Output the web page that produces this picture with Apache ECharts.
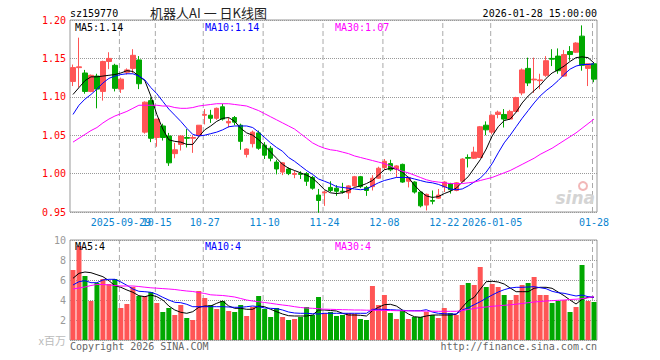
<!DOCTYPE html>
<html><head><meta charset="utf-8">
<script src="https://cdn.jsdelivr.net/npm/echarts@6/dist/echarts.min.js"></script>
<style>html,body{margin:0;padding:0;background:#fff}#c{width:660px;height:360px}</style>
</head><body><div id="c"></div>
<script>
const dates = [
'2025-09-17','2025-09-18','2025-09-19','2025-09-22','2025-09-23','2025-09-24','2025-09-25','2025-09-26','2025-09-29','2025-09-30',
'2025-10-09','2025-10-10','2025-10-13','2025-10-14','2025-10-15','2025-10-16','2025-10-17','2025-10-20','2025-10-21','2025-10-22',
'2025-10-23','2025-10-24','2025-10-27','2025-10-28','2025-10-29','2025-10-30','2025-10-31','2025-11-03','2025-11-04','2025-11-05',
'2025-11-06','2025-11-07','2025-11-10','2025-11-11','2025-11-12','2025-11-13','2025-11-14','2025-11-17','2025-11-18','2025-11-19',
'2025-11-20','2025-11-21','2025-11-24','2025-11-25','2025-11-26','2025-11-27','2025-11-28','2025-12-01','2025-12-02','2025-12-03',
'2025-12-04','2025-12-05','2025-12-08','2025-12-09','2025-12-10','2025-12-11','2025-12-12','2025-12-15','2025-12-16','2025-12-17',
'2025-12-18','2025-12-19','2025-12-22','2025-12-23','2025-12-24','2025-12-25','2025-12-26','2025-12-29','2025-12-30','2025-12-31',
'2026-01-05','2026-01-06','2026-01-07','2026-01-08','2026-01-09','2026-01-12','2026-01-13','2026-01-14','2026-01-15','2026-01-16',
'2026-01-19','2026-01-20','2026-01-21','2026-01-22','2026-01-23','2026-01-26','2026-01-27','2026-01-28'];

const opens = [
1.120,1.138,1.131,1.107,1.127,1.107,1.146,1.141,1.110,1.132,
1.137,1.148,1.054,1.095,1.047,1.062,1.049,1.026,1.038,1.047,
1.046,1.050,1.076,1.076,1.072,1.087,1.066,1.073,1.063,1.025,
1.039,1.053,1.037,1.033,1.015,1.002,1.006,0.999,1.000,1.000,
0.995,0.972,0.975,0.982,0.981,0.977,0.975,0.984,0.996,0.982,
0.983,0.994,1.008,1.013,1.006,1.012,0.990,0.989,0.976,0.959,
0.965,0.968,0.983,0.987,0.978,0.990,1.021,1.020,1.021,1.063,
1.054,1.077,1.077,1.071,1.081,1.105,1.137,1.122,1.121,1.128,
1.150,1.153,1.127,1.159,1.158,1.179,1.137,1.143];
const closes = [
1.138,1.139,1.107,1.128,1.110,1.146,1.150,1.111,1.123,1.135,
1.154,1.117,1.093,1.046,1.071,1.047,1.014,1.031,1.049,1.046,
1.047,1.063,1.077,1.072,1.085,1.071,1.068,1.067,1.042,1.032,
1.054,1.033,1.024,1.020,1.006,1.014,1.000,1.000,0.999,0.990,
0.981,0.965,0.976,0.978,0.977,0.976,0.984,0.996,0.983,0.978,
0.994,1.007,1.016,1.005,1.010,0.989,0.995,0.976,0.958,0.973,
0.964,0.972,0.989,0.979,0.988,1.019,1.020,1.028,1.061,1.057,
1.076,1.080,1.071,1.081,1.099,1.135,1.118,1.123,1.122,1.147,
1.149,1.134,1.155,1.155,1.170,1.141,1.143,1.123];
const lows = [
1.114,1.112,1.104,1.106,1.085,1.095,1.136,1.107,1.105,1.129,
1.131,1.110,1.052,1.041,1.035,1.043,1.010,1.020,1.030,1.034,
1.027,1.048,1.064,1.066,1.070,1.069,1.060,1.063,1.031,1.021,
1.034,1.031,1.019,1.016,0.999,0.998,0.998,0.994,0.993,0.984,
0.979,0.949,0.958,0.976,0.971,0.974,0.967,0.983,0.981,0.971,
0.978,0.993,1.005,1.003,0.995,0.988,0.982,0.974,0.956,0.952,
0.960,0.967,0.976,0.974,0.977,0.989,1.008,1.019,1.021,1.050,
1.051,1.072,1.060,1.070,1.080,1.102,1.114,1.105,1.110,1.126,
1.140,1.130,1.126,1.147,1.157,1.134,1.114,1.119];
const highs = [
1.142,1.177,1.135,1.129,1.130,1.147,1.158,1.143,1.125,1.137,
1.162,1.153,1.094,1.099,1.071,1.065,1.053,1.040,1.050,1.058,
1.050,1.063,1.084,1.083,1.086,1.091,1.073,1.075,1.065,1.033,
1.056,1.056,1.041,1.036,1.018,1.015,1.008,1.004,1.003,1.002,
0.997,0.980,0.978,0.990,0.985,0.988,0.985,0.997,0.997,0.984,
0.998,1.009,1.019,1.018,1.011,1.013,0.996,0.990,0.977,0.974,
0.978,0.980,0.990,0.988,0.989,1.020,1.025,1.035,1.062,1.068,
1.077,1.082,1.084,1.083,1.100,1.137,1.151,1.151,1.130,1.153,
1.162,1.163,1.161,1.166,1.171,1.193,1.143,1.143];

const ma5 = [
1.103,1.112,1.121,1.126,1.126,1.127,1.128,1.129,1.131,1.134,
1.133,1.127,1.121,1.101,1.077,1.058,1.044,1.042,1.041,1.038,
1.038,1.048,1.057,1.062,1.068,1.072,1.073,1.068,1.059,1.053,
1.050,1.044,1.036,1.028,1.020,1.012,1.007,1.004,1.001,0.998,
0.994,0.987,0.979,0.975,0.974,0.975,0.978,0.982,0.984,0.987,
0.991,0.998,1.005,1.007,1.006,1.002,0.995,0.985,0.977,0.971,
0.969,0.970,0.974,0.977,0.981,0.989,0.996,1.007,1.018,1.032,
1.049,1.061,1.069,1.071,1.080,1.092,1.101,1.108,1.115,1.124,
1.131,1.135,1.140,1.146,1.151,1.152,1.151,1.144];
const ma10 = [
1.077,1.089,1.097,1.103,1.110,1.118,1.124,1.127,1.129,1.130,
1.130,1.127,1.122,1.112,1.104,1.094,1.084,1.076,1.068,1.059,
1.051,1.049,1.050,1.052,1.054,1.057,1.061,1.062,1.062,1.062,
1.060,1.054,1.047,1.040,1.034,1.029,1.021,1.016,1.010,1.004,
0.999,0.993,0.990,0.987,0.983,0.982,0.981,0.980,0.979,0.980,
0.984,0.988,0.991,0.993,0.995,0.995,0.995,0.993,0.991,0.989,
0.988,0.986,0.983,0.980,0.979,0.980,0.984,0.989,0.994,1.002,
1.013,1.027,1.040,1.050,1.061,1.072,1.082,1.092,1.101,1.108,
1.114,1.121,1.129,1.136,1.140,1.142,1.142,1.143];
const ma30 = [
1.041,1.046,1.051,1.056,1.060,1.066,1.071,1.075,1.078,1.081,
1.085,1.089,1.089,1.089,1.089,1.088,1.088,1.086,1.085,1.085,
1.086,1.088,1.089,1.090,1.091,1.091,1.091,1.090,1.089,1.088,
1.085,1.082,1.078,1.074,1.070,1.066,1.062,1.058,1.052,1.046,
1.040,1.036,1.033,1.031,1.030,1.028,1.026,1.023,1.021,1.019,
1.017,1.015,1.013,1.010,1.006,1.003,1.001,0.998,0.995,0.992,
0.990,0.989,0.988,0.987,0.987,0.987,0.988,0.989,0.991,0.993,
0.995,0.998,1.001,1.004,1.008,1.012,1.016,1.020,1.025,1.029,
1.033,1.038,1.043,1.048,1.053,1.059,1.065,1.071];

const volumes = [
7.0,9.4,6.4,3.9,5.7,6.1,5.6,6.1,3.2,3.6,
5.3,4.4,4.4,4.8,3.7,2.8,3.2,2.5,3.5,2.2,
2.0,4.9,4.2,3.5,3.1,3.9,2.9,2.8,3.5,2.4,
3.3,4.4,3.1,2.3,3.2,2.3,2.0,2.1,2.3,3.3,
2.5,4.3,2.7,2.8,2.4,2.5,2.7,2.6,2.1,2.0,
5.4,3.5,4.5,2.7,2.1,3.0,2.1,2.3,2.3,2.8,
2.5,2.2,3.2,2.7,2.5,5.5,5.7,5.5,7.3,5.3,
5.6,5.3,4.5,4.0,4.5,5.5,5.7,6.3,4.5,4.5,
3.7,3.9,4.0,2.8,3.3,7.5,3.9,3.8];
const vma5 = [
6.17,6.67,6.80,6.73,6.53,6.33,5.93,5.43,5.27,5.00,
4.77,4.43,4.33,4.50,4.33,4.00,3.40,3.00,2.77,2.67,
2.83,3.27,3.40,3.40,3.67,3.90,3.40,3.17,3.17,3.07,
3.07,3.40,3.33,3.07,2.83,2.60,2.43,2.40,2.40,2.40,
2.50,3.00,3.00,2.95,2.90,2.67,2.50,2.50,2.47,2.40,
2.93,3.27,3.53,3.57,3.40,3.00,2.60,2.33,2.27,2.40,
2.50,2.50,2.50,2.50,2.57,3.27,3.93,4.27,5.07,5.83,
5.87,5.80,5.60,5.20,4.83,4.83,4.83,5.17,5.27,5.27,
5.17,4.80,4.43,4.00,3.60,4.07,4.27,4.27];
const vma10 = [
5.50,5.83,5.93,5.73,5.73,6.00,6.07,6.07,5.80,5.47,
5.10,4.87,4.83,4.77,4.57,4.27,4.00,3.77,3.73,3.57,
3.33,3.33,3.33,3.33,3.33,3.33,3.30,3.27,3.27,3.33,
3.40,3.33,3.20,3.17,3.13,3.00,2.80,2.70,2.67,2.67,
2.63,2.60,2.67,2.67,2.67,2.67,2.67,2.67,2.67,2.67,
3.07,3.07,3.07,3.03,3.00,2.97,2.93,2.93,2.93,3.03,
2.80,2.67,2.63,2.60,2.60,3.00,3.23,3.53,3.83,4.17,
4.50,4.80,5.03,5.20,5.27,5.27,5.30,5.33,5.23,5.13,
4.87,4.73,4.67,4.53,4.40,4.50,4.33,4.27];
const vma30 = [
5.10,5.20,5.30,5.45,5.55,5.55,5.50,5.45,5.40,5.40,
5.40,5.35,5.28,5.22,5.18,5.14,5.10,5.05,4.97,4.90,
4.85,4.75,4.65,4.52,4.48,4.45,4.38,4.30,4.15,4.00,
3.90,3.83,3.75,3.67,3.58,3.50,3.43,3.33,3.25,3.20,
3.17,3.13,3.08,3.07,3.05,3.03,3.02,3.00,3.00,2.98,
2.97,2.97,2.95,2.95,2.93,2.93,2.92,2.90,2.90,2.88,
2.88,2.87,2.87,2.87,2.87,2.95,3.05,3.15,3.25,3.30,
3.37,3.42,3.47,3.52,3.58,3.65,3.73,3.80,3.85,3.90,
3.93,3.97,4.00,4.05,4.08,4.13,4.22,4.33];

const tickDates = ['2025-09-29','2025-10-15','2025-10-27','2025-11-10','2025-11-24','2025-12-08','2025-12-22','2026-01-05','2026-01-28'];
const tickTexts = ['2025-09-29','10-15','10-27','11-10','11-24','12-08','12-22','2026-01-05','01-28'];
const priceMin = 0.95, priceMax = 1.20, priceStep = 0.05;
const volMin = 0, volMax = 10, volStep = 2;

const UP = '#ff5555', DOWN = '#00a800';
const MONO = '"DejaVu Sans Mono", "Liberation Mono", monospace';
const tickText = v => tickTexts[tickDates.indexOf(v)];
// first label sits on its own axis so the overlap with its neighbour is kept, as in the original
const isTickA = (idx, val) => tickDates.indexOf(val) > 0;
const isTickB = (idx, val) => tickDates.indexOf(val) === 0;
const last = a => a[a.length - 1];

const chart = echarts.init(document.getElementById('c'), null, {renderer: 'svg'});
const hSplit = {show: true, lineStyle: {color: '#999', type: 'dotted', width: 1}};
const labelStyle = {color: '#0a84d0', fontSize: 10, fontFamily: MONO, margin: 5, hideOverlap: false, formatter: tickText};

// dashed vertical grid lines at the labelled dates: a broken line series on a hidden
// index axis (slightly shifted, as the original draws them just left of the candle centre)
function vLineData(lo, hi) {
  const out = [];
  tickDates.forEach(d => { const i = dates.indexOf(d); out.push([i, lo], [i, hi], [i, '-']); });
  return out;
}
const idxAxis = g => ({type: 'value', gridIndex: g, min: -0.25, max: dates.length - 0.25, show: false,
  splitLine: {show: false}, axisLine: {show: false}, axisTick: {show: false}, axisLabel: {show: false}});
const vLineSeries = (xi, yi, lo, hi) => ({type: 'line', xAxisIndex: xi, yAxisIndex: yi, z: 1, silent: true,
  data: vLineData(lo, hi), showSymbol: false, symbol: 'none', connectNulls: false,
  lineStyle: {color: '#aaaaaa', width: 1, type: [5, 3]}});

function txt(x, y, text, fill, font, align) {
  return {type: 'text', x: x, y: y, z: 100, silent: true,
    style: {text: text, fill: fill, font: font, textAlign: align || 'left', textVerticalAlign: 'middle'}};
}

chart.setOption({
  animation: false,
  backgroundColor: '#fff',
  grid: [
    {left: 70, top: 20, width: 527, height: 192, show: true, borderColor: '#999', borderWidth: 1, backgroundColor: 'transparent'},
    {left: 70, top: 240, width: 527, height: 100, show: true, borderColor: '#999', borderWidth: 1, backgroundColor: 'transparent'}
  ],
  xAxis: [
    {type: 'category', gridIndex: 0, data: dates, boundaryGap: true, position: 'bottom', offset: 0,
     axisLine: {show: false}, axisTick: {show: false},
     axisLabel: Object.assign({interval: isTickA}, labelStyle), splitLine: {show: false}},
    {type: 'category', gridIndex: 1, data: dates, boundaryGap: true,
     axisLine: {show: false}, axisTick: {show: false},
     axisLabel: {show: false}, splitLine: {show: false}},
    {type: 'category', gridIndex: 0, data: dates, boundaryGap: true, position: 'bottom', offset: 0,
     axisLine: {show: false}, axisTick: {show: false},
     axisLabel: Object.assign({interval: isTickB}, labelStyle), splitLine: {show: false}},
    idxAxis(0),
    idxAxis(1)
  ],
  yAxis: [
    {type: 'value', gridIndex: 0, min: priceMin, max: priceMax, interval: priceStep, scale: true,
     axisLine: {show: false}, axisTick: {show: false},
     axisLabel: {color: '#ff0000', fontSize: 10, fontFamily: MONO, margin: 4, formatter: v => v.toFixed(2)},
     splitLine: hSplit},
    {type: 'value', gridIndex: 1, min: volMin, max: volMax, interval: volStep,
     axisLine: {show: false}, axisTick: {show: false},
     axisLabel: {color: '#999', fontSize: 10, fontFamily: MONO, margin: 4, formatter: v => v === 0 ? '' : String(v)},
     splitLine: hSplit}
  ],
  series: [
    vLineSeries(3, 0, priceMin, priceMax),
    vLineSeries(4, 1, volMin, volMax),
    {type: 'candlestick', xAxisIndex: 0, yAxisIndex: 0, barWidth: 5, z: 3,
     data: dates.map((d, i) => [opens[i], closes[i], lows[i], highs[i]]),
     itemStyle: {color: UP, color0: DOWN, borderColor: UP, borderColor0: DOWN, borderWidth: 1}},
    {type: 'line', xAxisIndex: 0, yAxisIndex: 0, data: ma5, showSymbol: false, z: 4, lineStyle: {color: '#000', width: 1}},
    {type: 'line', xAxisIndex: 0, yAxisIndex: 0, data: ma10, showSymbol: false, z: 4, lineStyle: {color: '#0000ff', width: 1}},
    {type: 'line', xAxisIndex: 0, yAxisIndex: 0, data: ma30, showSymbol: false, z: 4, lineStyle: {color: '#ff00ff', width: 1}},
    {type: 'bar', xAxisIndex: 1, yAxisIndex: 1, barWidth: 5, z: 3,
     data: volumes.map((v, i) => ({value: v, itemStyle: {color: closes[i] >= opens[i] ? UP : DOWN}}))},
    {type: 'line', xAxisIndex: 1, yAxisIndex: 1, data: vma5, showSymbol: false, z: 4, lineStyle: {color: '#000', width: 1}},
    {type: 'line', xAxisIndex: 1, yAxisIndex: 1, data: vma10, showSymbol: false, z: 4, lineStyle: {color: '#0000ff', width: 1}},
    {type: 'line', xAxisIndex: 1, yAxisIndex: 1, data: vma30, showSymbol: false, z: 4, lineStyle: {color: '#ff00ff', width: 1}}
  ],
  graphic: [
    txt(70, 13, 'sz159770', '#000', '10px ' + MONO),
    txt(150, 12, '机器人AI 一 日K线图', '#222', '13px "Noto Sans CJK SC", sans-serif'),
    txt(597, 13, '2026-01-28 15:00:00', '#000', '10px ' + MONO, 'right'),
    txt(75, 27, 'MA5:' + last(ma5).toFixed(2), '#000', '10px ' + MONO),
    txt(205, 27, 'MA10:' + last(ma10).toFixed(2), '#0000ff', '10px ' + MONO),
    txt(335, 27, 'MA30:' + last(ma30).toFixed(2), '#ff00ff', '10px ' + MONO),
    txt(75, 246, 'MA5:' + Math.round(last(vma5)), '#000', '10px ' + MONO),
    txt(205, 246, 'MA10:' + Math.round(last(vma10)), '#0000ff', '10px ' + MONO),
    txt(335, 246, 'MA30:' + Math.round(last(vma30)), '#ff00ff', '10px ' + MONO),
    txt(66, 340, 'x百万', '#bbb', '11px "Noto Sans CJK SC", sans-serif', 'right'),
    txt(70, 346, 'Copyright 2026 SINA.COM', '#666', '10px ' + MONO),
    txt(597, 346, 'http://finance.sina.com.cn', '#666', '10px ' + MONO, 'right'),
    {type: 'circle', z: 99, silent: true, shape: {cx: 583, cy: 186, r: 4}, style: {fill: 'none', stroke: '#f2b8b8', lineWidth: 2}},
    txt(595, 198, 'sina', '#d4d4d4', 'italic bold 17px "DejaVu Sans", sans-serif', 'right')
  ]
});
</script>
</body></html>
